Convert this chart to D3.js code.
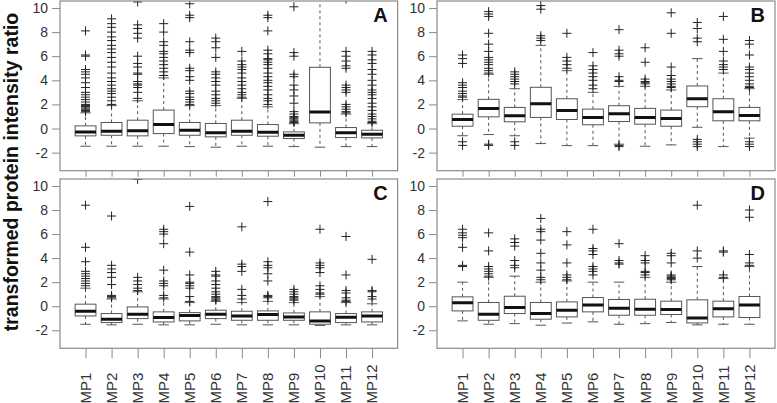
<!DOCTYPE html>
<html><head><meta charset="utf-8">
<script src="https://cdn.jsdelivr.net/npm/d3@7"></script>
<style>body{margin:0;background:#fff}svg{display:block}text{font-family:"Liberation Sans",Arial,sans-serif}</style>
</head><body>
<svg id="c" width="777" height="403"></svg>
<script>
const categories = ["MP1","MP2","MP3","MP4","MP5","MP6","MP7","MP8","MP9","MP10","MP11","MP12"];
const yTicks = [-2,0,2,4,6,8,10];
const panelLetters = ["A","B","C","D"];
const yTitle = "transformed protein intensity ratio";

// Panel A
const aQ1  = [-0.61,-0.56,-0.61,-0.42,-0.56,-0.69,-0.56,-0.64,-0.83,0.47,-0.75,-0.78];
const aMed = [-0.28,-0.22,-0.19,0.33,-0.14,-0.36,-0.22,-0.31,-0.56,1.37,-0.36,-0.47];
const aQ3  = [0.22,0.5,0.69,1.53,0.5,0.42,0.69,0.33,-0.28,5.08,0.08,-0.14];
const aLo  = [-1.47,-1.47,-1.47,-1.47,-1.5,-1.55,-1.47,-1.47,-1.5,-1.55,-1.5,-1.5];
const aHi  = [1.3,1.9,2.3,4.2,1.9,1.9,2.5,1.8,0.4,12,1.2,0.4];
const aOut = [
 [8.1,6.1,6.0,4.9,4.7,4.5,4.2,3.8,3.4,3.0,2.8,2.6,2.4,2.2,2.0,1.9,1.85,1.8,1.7,1.6,1.5,1.4],
 [9.1,8.7,8.4,8.0,7.6,7.3,6.9,6.6,6.3,5.9,5.5,5.1,4.6,4.2,3.9,3.6,3.3,3.1,2.9,2.6,2.3,2.0],
 [10.5,8.6,8.3,7.9,7.5,6.0,5.4,5.1,4.6,4.5,3.9,3.7,3.6,3.4,3.0,2.5],
 [8.7,8.0,7.2,6.9,6.4,6.2,5.9,5.6,5.3,5.0,4.7,4.4],
 [10.35,9.4,9.2,7.2,6.5,6.3,5.0,4.8,4.3,4.0,3.1,2.9,2.6,2.4,2.2,2.0],
 [7.5,7.2,6.7,5.9,4.7,4.5,4.2,3.9,3.6,3.1,2.8,2.5,2.3,2.1],
 [6.4,5.6,5.3,5.1,4.9,4.6,4.2,3.9,3.6,3.3,3.0,2.8,2.6],
 [9.4,9.2,8.1,6.5,6.2,5.8,5.7,5.5,5.3,5.0,4.6,4.3,4.0,3.8,3.5,3.2,2.8,2.5,2.3,2.0],
 [10.1,6.3,6.0,4.5,4.3,3.6,3.2,2.7,2.1,1.4,1.2,1.0,0.9,0.8,0.7,0.6,0.5],
 [],
 [10.75,6.4,6.0,5.6,5.2,5.0,3.6,3.4,3.2,3.0,2.0,1.8,1.6,1.4,1.3],
 [6.4,6.1,5.7,5.4,4.9,4.5,4.0,3.6,3.2,3.0,2.8,2.5,2.1,1.8,1.5,1.2,1.0,0.8,0.6,0.5]
];

// Panel B
const bQ1  = [0.19,0.97,0.56,0.92,0.75,0.31,0.58,0.36,0.19,1.81,0.64,0.64];
const bMed = [0.75,1.67,1.06,2.06,1.5,0.92,1.22,0.92,0.83,2.47,1.39,1.08];
const bQ3  = [1.19,2.42,1.75,3.42,2.47,1.61,1.89,1.67,1.53,3.53,2.47,1.75];
const bLo  = [-0.6,-0.5,-0.6,-1.25,-1.42,-1.42,-1.3,-1.47,-1.36,0.1,-1.5,-0.8];
const bHi  = [2.4,4.5,3.3,6.9,4.8,3.0,3.5,3.5,3.2,5.8,4.6,3.3];
const bOut = [
 [6.1,5.8,5.4,3.8,3.6,3.4,3.1,2.9,2.7,2.6,-1.1,-1.4],
 [9.7,9.5,9.3,7.9,7.0,6.4,5.9,5.7,5.5,5.3,5.0,4.8,4.6,-1.3,-1.4],
 [4.7,4.5,4.3,4.1,3.9,3.7,-1.1,-1.4],
 [10.2,9.9,7.7,7.5,7.3],
 [7.9,5.9,5.6,5.3,5.0],
 [6.3,5.2,4.9,4.6,4.3,4.0,3.6,3.3],
 [8.2,6.5,6.2,6.0,4.3,4.0,3.9,-1.4,-1.5],
 [6.7,5.5,4.1,3.9,3.8,3.7],
 [9.6,7.9,5.1,4.4,4.1,3.9,3.7,3.5,3.4],
 [8.8,8.3,7.5,7.2,-0.9,-1.1,-1.3,-1.5],
 [9.3,7.4,6.4,5.6,5.3,5.1,4.9],
 [7.3,7.0,6.1,5.1,4.9,4.6,4.3,4.0,3.7,3.5,3.4,-1.1,-1.3,-1.5]
];

// Panel C
const cQ1  = [-0.81,-1.36,-1.03,-1.31,-1.22,-1.03,-1.17,-1.17,-1.17,-1.5,-1.36,-1.31];
const cMed = [-0.42,-1.08,-0.67,-0.94,-0.78,-0.67,-0.81,-0.69,-0.89,-1.22,-0.92,-0.81];
const cQ3  = [0.17,-0.61,-0.06,-0.47,-0.53,-0.33,-0.42,-0.39,-0.56,-0.47,-0.61,-0.47];
const cLo  = [-1.5,-1.55,-1.5,-1.55,-1.55,-1.5,-1.55,-1.55,-1.55,-1.6,-1.55,-1.55];
const cHi  = [1.5,0.6,1.2,0.6,0.3,0.4,0.3,0.4,0.3,0.8,0.3,0.2];
const cOut = [
 [8.4,4.9,3.7,2.9,2.7,2.5,2.3,2.1,1.9,1.7],
 [7.5,3.4,3.1,2.8,2.4,1.8,0.9,0.8,0.7],
 [10.55,2.4,2.1,1.8,1.5,1.3],
 [6.4,6.2,6.0,5.2,3.0,2.1,1.9,1.7,0.9,0.7],
 [8.3,4.5,2.6,2.0,1.9,1.7,1.5,0.8,0.4],
 [2.9,2.6,2.5,2.1,1.8,1.5,1.2,1.0,0.8,0.7,0.6,0.5],
 [6.6,3.5,3.3,2.9,1.4,0.9,0.6],
 [8.7,3.7,3.4,3.2,2.7,2.1,0.9,0.8,0.7],
 [1.4,1.2,1.0,0.8,0.7,0.6,0.5],
 [6.4,3.6,3.4,3.2,2.8,1.7,1.4,1.1,1.0],
 [5.8,2.6,1.3,1.1,0.7,0.5,0.4],
 [3.9,1.3,1.2,0.8,0.6]
];

// Panel D
const dQ1  = [-0.39,-1.17,-0.61,-1.08,-0.89,-0.47,-0.75,-0.75,-0.69,-1.39,-0.89,-0.94];
const dMed = [0.28,-0.67,-0.11,-0.61,-0.33,0.11,-0.17,-0.25,-0.28,-0.97,-0.22,0.11];
const dQ3  = [0.78,0.31,0.83,0.31,0.36,0.72,0.56,0.58,0.42,0.53,0.42,0.81];
const dLo  = [-1.22,-1.5,-1.45,-1.58,-1.4,-1.3,-1.5,-1.45,-1.35,-1.55,-1.5,-1.5];
const dHi  = [2.0,2.4,2.5,2.0,2.1,2.0,2.0,2.4,2.0,3.3,2.3,3.3];
const dOut = [
 [6.4,6.1,5.9,5.7,4.9,3.4,3.3],
 [6.1,4.6,3.3,3.1,2.9,2.7,2.5],
 [5.6,5.3,5.0,3.8,3.4,3.2],
 [7.3,6.4,6.2,5.5,4.4,3.6,3.0,2.4,2.2],
 [6.2,5.1,3.6,2.6,2.4,2.2],
 [6.4,4.8,4.6,4.3,3.3,3.1,2.9,2.6],
 [5.2,3.8,3.6,3.5],
 [4.2,3.8,3.6,2.9,2.8,2.6],
 [4.4,4.2,3.6,2.6,2.5,2.4,2.3,2.2],
 [8.4,4.6,4.0],
 [4.6,4.5,2.6,2.4],
 [8.0,7.4,4.3,3.6,3.4]
];

const svg = d3.select("#c");
const FRAME = "#8a8a8a", BOXC = "#555", TXT = "#333";

const panels = [
  {id:"A", q1:aQ1, med:aMed, q3:aQ3, lo:aLo, hi:aHi, out:aOut, x0:60,  x1:397.6, top:1,   bot:170.7, tick:6,  labels:false},
  {id:"B", q1:bQ1, med:bMed, q3:bQ3, lo:bLo, hi:bHi, out:bOut, x0:437, x1:775,   top:1,   bot:170.7, tick:6,  labels:false},
  {id:"C", q1:cQ1, med:cMed, q3:cQ3, lo:cLo, hi:cHi, out:cOut, x0:60,  x1:397.6, top:179, bot:348.3, tick:10, labels:true},
  {id:"D", q1:dQ1, med:dMed, q3:dQ3, lo:dLo, hi:dHi, out:dOut, x0:437, x1:775,   top:179, bot:348.3, tick:10, labels:true}
];

panels.forEach((p, pi) => {
  const x = d3.scaleLinear().domain([0.02, 12.98]).range([p.x0, p.x1]);
  const y = d3.scaleLinear().domain([-3.5, 10.58]).range([p.bot, p.top]);
  const bw = x(0.8) - x(0);
  const g = svg.append("g");

  const clipId = "clip" + p.id;
  svg.append("clipPath").attr("id", clipId).append("rect")
    .attr("x", p.x0).attr("y", p.top).attr("width", p.x1 - p.x0).attr("height", p.bot - p.top);

  // y axis
  const ya = g.append("g").attr("transform", `translate(${p.x0},0)`)
    .call(d3.axisLeft(y).tickValues(yTicks).tickSize(8).tickPadding(4).tickFormat(d => String(d)));
  ya.select(".domain").remove();
  ya.selectAll("line").attr("stroke", FRAME);
  ya.selectAll("text").attr("fill", TXT).style("font-size", "14px");

  // x axis ticks
  const xa = g.append("g").attr("transform", `translate(0,${p.bot})`)
    .call(d3.axisBottom(x).tickValues(d3.range(1, 13)).tickSize(p.tick).tickFormat(""));
  xa.select(".domain").remove();
  xa.selectAll("line").attr("stroke", FRAME);

  if (p.labels) {
    g.selectAll("text.xl").data(categories).enter().append("text")
      .attr("class", "xl")
      .attr("transform", (d, i) => `translate(${x(i + 1)},403.5) rotate(-90)`)
      .attr("dy", "0.36em")
      .attr("text-anchor", "start")
      .attr("fill", TXT)
      .style("font-size", "15px")
      .text(d => d);
  }

  const pg = g.append("g").attr("clip-path", `url(#${clipId})`);
  categories.forEach((c, i) => {
    const cx = x(i + 1);
    // whiskers
    pg.append("line").attr("x1", cx).attr("x2", cx).attr("y1", y(p.q3[i])).attr("y2", y(p.hi[i]))
      .attr("stroke", BOXC).attr("stroke-dasharray", "3,3");
    pg.append("line").attr("x1", cx).attr("x2", cx).attr("y1", y(p.q1[i])).attr("y2", y(p.lo[i]))
      .attr("stroke", BOXC).attr("stroke-dasharray", "3,3");
    // staples
    [p.hi[i], p.lo[i]].forEach(v => {
      pg.append("line").attr("x1", cx - bw / 4).attr("x2", cx + bw / 4).attr("y1", y(v)).attr("y2", y(v))
        .attr("stroke", BOXC);
    });
    // box
    pg.append("rect").attr("x", cx - bw / 2).attr("width", bw)
      .attr("y", y(p.q3[i])).attr("height", y(p.q1[i]) - y(p.q3[i]))
      .attr("fill", "#fff").attr("stroke", BOXC).attr("stroke-width", 1);
    // median
    pg.append("line").attr("x1", cx - bw / 2).attr("x2", cx + bw / 2)
      .attr("y1", y(p.med[i])).attr("y2", y(p.med[i]))
      .attr("stroke", "#111").attr("stroke-width", 3);
    // outliers
    p.out[i].forEach(v => {
      const yy = y(v);
      pg.append("path").attr("d", `M${cx - 4.5},${yy}h9M${cx},${yy - 4.5}v9`)
        .attr("stroke", "#222").attr("stroke-width", 1).attr("fill", "none");
    });
  });

  // frame
  g.append("rect").attr("x", p.x0).attr("y", p.top).attr("width", p.x1 - p.x0).attr("height", p.bot - p.top)
    .attr("fill", "none").attr("stroke", FRAME).attr("stroke-width", 1.2);

  // panel letter
  g.append("text").attr("x", p.x1 - 10).attr("y", p.top + 21)
    .attr("text-anchor", "end").style("font-size", "20px").style("font-weight", "bold")
    .attr("fill", "#111").text(panelLetters[pi]);
});

// y title
svg.append("text").attr("transform", "translate(17.5,172) rotate(-90)")
  .attr("text-anchor", "middle").style("font-size", "19.5px").style("font-weight", "bold")
  .attr("fill", "#111").text(yTitle);
</script>
</body></html>
